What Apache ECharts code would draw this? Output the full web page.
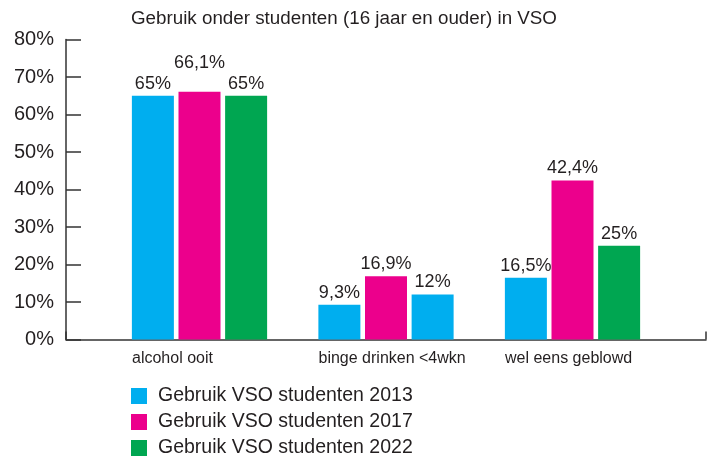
<!DOCTYPE html>
<html lang="nl">
<head>
    <meta charset="utf-8" />
    <title>Gebruik onder studenten in VSO</title>
    <script src="https://cdn.jsdelivr.net/npm/echarts@6/dist/echarts.min.js"></script>
    <style>
        html, body { margin: 0; padding: 0; background: #fff; }
        #main { width: 715px; height: 459px; }
    </style>
</head>
<body>
<div id="main"></div>
<script type="text/javascript">
    // data
    var categories = ['alcohol ooit', 'binge drinken <4wkn', 'wel eens geblowd'];
    var seriesNames = ['Gebruik VSO studenten 2013', 'Gebruik VSO studenten 2017', 'Gebruik VSO studenten 2022'];
    var values2013 = [65, 9.3, 16.5];
    var values2017 = [66.1, 16.9, 42.4];
    var values2022 = [65, 12, 25];
    var yTicks = [0, 10, 20, 30, 40, 50, 60, 70, 80];

    var blue = '#00aeef', pink = '#ec008c', green = '#00a651';
    var textColor = '#231f20';
    var font = 'Liberation Sans, Arial, sans-serif';

    function fmt(v) {
        return String(v).replace('.', ',') + '%';
    }

    var myChart = echarts.init(document.getElementById('main'));

    var labelBase = {
        show: true,
        position: 'top',
        distance: 3,
        color: textColor,
        fontFamily: font,
        fontSize: 18,
        formatter: function (p) { return fmt(p.value); }
    };

    // 2017 alcohol label sits higher in the original
    var data2017 = values2017.map(function (v, i) {
        if (i === 0) return { value: v, label: { offset: [0, -17] } };
        return v;
    });
    // binge drinken 2022 bar is drawn blue in the original
    var data2022 = values2022.map(function (v, i) {
        if (i === 1) return { value: v, itemStyle: { color: blue } };
        return v;
    });

    // one legend per row, stacked
    var legends = seriesNames.map(function (name, i) {
        return {
            orient: 'vertical',
            left: 131,
            top: 386 + i * 26,
            padding: 0,
            itemWidth: 16,
            itemHeight: 16,
            icon: 'rect',
            data: [name],
            textStyle: { color: textColor, fontFamily: font, fontSize: 19.5, lineHeight: 16, padding: [0, 0, 0, 6] }
        };
    });

    var option = {
        animation: false,
        backgroundColor: '#fff',
        title: {
            text: 'Gebruik onder studenten (16 jaar en ouder) in VSO',
            left: 126,
            top: 4,
            textStyle: { color: textColor, fontFamily: font, fontSize: 18.8, fontWeight: 'normal' }
        },
        legend: legends,
        grid: [
            { left: 66, right: 9, top: 39.5, bottom: 119.5 },
            { left: 106.25, right: 49.25, top: 39.5, bottom: 119.5 }
        ],
        xAxis: [
            {
                gridIndex: 0,
                type: 'value',
                min: 0,
                max: 1,
                interval: 1,
                axisLine: { show: true, lineStyle: { color: '#333', width: 1.5 } },
                axisTick: { show: true, inside: true, length: 8, lineStyle: { color: '#333', width: 1.5 } },
                axisLabel: { show: false },
                splitLine: { show: false }
            },
            {
                gridIndex: 1,
                type: 'category',
                data: categories,
                axisLine: { show: false },
                axisTick: { show: false },
                axisLabel: {
                    interval: 0,
                    margin: 11,
                    color: textColor,
                    fontFamily: font,
                    fontSize: 16,
                    formatter: function (v) { return '{a|' + v + '}'; },
                    rich: { a: { width: 135, align: 'left', fontSize: 16, fontFamily: font, color: textColor } }
                }
            }
        ],
        yAxis: [
            {
                gridIndex: 0,
                type: 'value',
                min: yTicks[0],
                max: yTicks[yTicks.length - 1],
                interval: 10,
                axisLine: { show: true, lineStyle: { color: '#333', width: 1.5 } },
                axisTick: { show: true, inside: true, length: 15, lineStyle: { color: '#333', width: 1.5 } },
                axisLabel: { margin: 12, color: textColor, fontFamily: font, fontSize: 20, formatter: '{value}%' },
                splitLine: { show: false }
            },
            {
                gridIndex: 1,
                type: 'value',
                min: yTicks[0],
                max: yTicks[yTicks.length - 1],
                show: false
            }
        ],
        series: [
            {
                name: seriesNames[0], type: 'bar', xAxisIndex: 1, yAxisIndex: 1,
                barWidth: 42, barGap: '11%', itemStyle: { color: blue },
                label: labelBase, data: values2013
            },
            {
                name: seriesNames[1], type: 'bar', xAxisIndex: 1, yAxisIndex: 1,
                barWidth: 42, barGap: '11%', itemStyle: { color: pink },
                label: labelBase, data: data2017
            },
            {
                name: seriesNames[2], type: 'bar', xAxisIndex: 1, yAxisIndex: 1,
                barWidth: 42, barGap: '11%', itemStyle: { color: green },
                label: labelBase, data: data2022
            }
        ]
    };

    myChart.setOption(option);
</script>
</body>
</html>
